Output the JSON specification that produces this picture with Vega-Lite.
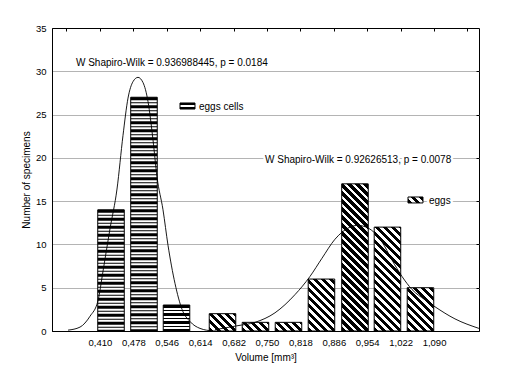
{
"$schema": "https://vega.github.io/schema/vega-lite/v6.json",
"width": 427, "height": 303,
"autosize": {"type": "none"},
"padding": {"left": 52, "top": 28, "right": 36, "bottom": 43},
"config": {"view": {"stroke": "#000", "strokeWidth": 1}, "font": "Liberation Sans", "background": "#fff"},
"datasets": {
"cells": [
{"x0": 0.4056, "x1": 0.4596, "xc": 0.4326, "count": 14},
{"x0": 0.4727, "x1": 0.5267, "xc": 0.4997, "count": 27},
{"x0": 0.5389, "x1": 0.5929, "xc": 0.5659, "count": 3}],
"eggs": [
{"x0": 0.6325, "x1": 0.6865, "count": 2},
{"x0": 0.6996, "x1": 0.7536, "count": 1},
{"x0": 0.7668, "x1": 0.8208, "count": 1},
{"x0": 0.8339, "x1": 0.8879, "count": 6},
{"x0": 0.9021, "x1": 0.9561, "count": 17},
{"x0": 0.9682, "x1": 1.0222, "count": 12},
{"x0": 1.0354, "x1": 1.0894, "count": 5}],
"curve": [
{"g": "cells", "x": 0.3451, "y": 0.1}, {"g": "cells", "x": 0.3695, "y": 0.45}, {"g": "cells", "x": 0.3898, "y": 1.7},
{"g": "cells", "x": 0.4061, "y": 3.5}, {"g": "cells", "x": 0.4163, "y": 6.9}, {"g": "cells", "x": 0.4305, "y": 11.8},
{"g": "cells", "x": 0.4448, "y": 16.4}, {"g": "cells", "x": 0.4570, "y": 22.6}, {"g": "cells", "x": 0.4672, "y": 26.9},
{"g": "cells", "x": 0.4773, "y": 28.8}, {"g": "cells", "x": 0.4875, "y": 29.3}, {"g": "cells", "x": 0.4977, "y": 28.7},
{"g": "cells", "x": 0.5079, "y": 26.5}, {"g": "cells", "x": 0.5180, "y": 22.1}, {"g": "cells", "x": 0.5262, "y": 17.8},
{"g": "cells", "x": 0.5384, "y": 14.0}, {"g": "cells", "x": 0.5486, "y": 9.9}, {"g": "cells", "x": 0.5628, "y": 5.5},
{"g": "cells", "x": 0.5771, "y": 2.5}, {"g": "cells", "x": 0.5933, "y": 1.1}, {"g": "cells", "x": 0.6137, "y": 0.3},
{"g": "cells", "x": 0.6401, "y": 0},
{"g": "eggs", "x": 0.6442, "y": 0.15}, {"g": "eggs", "x": 0.6890, "y": 0.6}, {"g": "eggs", "x": 0.7256, "y": 1.0},
{"g": "eggs", "x": 0.7663, "y": 2.1}, {"g": "eggs", "x": 0.8070, "y": 4.2}, {"g": "eggs", "x": 0.8375, "y": 6.3},
{"g": "eggs", "x": 0.8619, "y": 8.4}, {"g": "eggs", "x": 0.8884, "y": 10.6}, {"g": "eggs", "x": 0.9189, "y": 12.0},
{"g": "eggs", "x": 0.9352, "y": 12.2}, {"g": "eggs", "x": 0.9556, "y": 11.9}, {"g": "eggs", "x": 0.9840, "y": 10.3},
{"g": "eggs", "x": 1.0044, "y": 8.2}, {"g": "eggs", "x": 1.0248, "y": 6.3}, {"g": "eggs", "x": 1.0451, "y": 4.8},
{"g": "eggs", "x": 1.0716, "y": 3.6}, {"g": "eggs", "x": 1.0919, "y": 2.8}, {"g": "eggs", "x": 1.1326, "y": 1.4},
{"g": "eggs", "x": 1.1814, "y": 0.3}],
"swatch": [
{"name": "cells", "x0": 0.5730, "x1": 0.6035, "y0": 25.64, "y1": 26.34},
{"name": "eggs", "x0": 1.0370, "x1": 1.0675, "y0": 14.79, "y1": 15.48}],
"labels": [
{"x": 0.3613, "y": 30.96, "text": "W Shapiro-Wilk = 0.936988445, p = 0.0184"},
{"x": 0.7460, "y": 19.75, "text": "W Shapiro-Wilk = 0.92626513, p = 0.0078"},
{"x": 0.6116, "y": 25.9, "text": "eggs cells"},
{"x": 1.0797, "y": 15.0, "text": "eggs"}]
},
"resolve": {"axis": {"x": "independent", "y": "independent"}},
"layer": [
{
"data": {"name": "cells"},
"mark": {"type": "rect", "fill": "#fff", "stroke": null},
"encoding": {
"x": {"field": "x0", "type": "quantitative", "scale": {"domain": [0.3125, 1.1815], "nice": false, "zero": false},
"axis": {"orient": "bottom", "values": [0.41, 0.478, 0.546, 0.614, 0.682, 0.75, 0.818, 0.886, 0.954, 1.022, 1.09],
"labelExpr": "replace(format(datum.value, '.3f'), '.', ',')", "tickSize": 0, "labelPadding": 6, "labelFontSize": 9.5,
"labelColor": "#000", "domainColor": "#000", "grid": false, "title": "Volume [mm³]", "titleFontSize": 10,
"titleFontWeight": "normal", "titleColor": "#000", "titlePadding": 6, "labelFlush": false, "labelOverlap": false}},
"x2": {"field": "x1"},
"y": {"field": "count", "type": "quantitative", "scale": {"domain": [0, 35], "nice": false},
"axis": {"orient": "left", "values": [0, 5, 10, 15, 20, 25, 30, 35], "tickSize": 0, "labelPadding": 6, "labelFontSize": 9.5,
"labelColor": "#000", "domainColor": "#000", "grid": true,
"gridColor": {"condition": {"test": "datum.value == 0 || datum.value == 35", "value": "transparent"}, "value": "#b4b4b4"},
"title": "Number of specimens", "titleFontSize": 10, "titleFontWeight": "normal", "titleColor": "#000", "titlePadding": 4, "labelFlush": false}},
"y2": {"datum": 0}
}
},
{
"data": {"name": "cells"},
"mark": {"type": "rule", "color": "#000", "strokeWidth": 26.5, "strokeDash": [3, 2, 1, 2], "strokeCap": "butt"},
"encoding": {
"x": {"field": "xc", "type": "quantitative",
"axis": {"orient": "top", "values": [0.342, 0.41, 0.478, 0.546, 0.614, 0.682, 0.75, 0.818, 0.886, 0.954, 1.022, 1.09, 1.158],
"labels": false, "tickSize": -3, "tickColor": "#000", "domain": false, "grid": false, "title": null}},
"y": {"field": "count", "type": "quantitative",
"axis": {"orient": "right", "values": [5, 10, 15, 20, 25, 30], "labels": false, "tickSize": -3, "tickColor": "#000",
"domain": false, "grid": false, "title": null}},
"y2": {"datum": 0}
}
},
{
"data": {"name": "cells"},
"mark": {"type": "rect", "fill": null, "stroke": "#000", "strokeWidth": 1},
"encoding": {
"x": {"field": "x0", "type": "quantitative", "axis": null},
"x2": {"field": "x1"},
"y": {"field": "count", "type": "quantitative", "axis": null},
"y2": {"datum": 0}
}
},
{
"data": {"name": "eggs"},
"mark": {"type": "rect", "stroke": "#000", "strokeWidth": 1},
"encoding": {
"x": {"field": "x0", "type": "quantitative", "axis": null},
"x2": {"field": "x1"},
"y": {"field": "count", "type": "quantitative", "axis": null},
"y2": {"datum": 0},
"fill": {"condition": [
{"test": "datum.count == 1", "value": {"gradient": "linear", "x1": 0, "y1": 1, "x2": 1.1988, "y2": 0.609, "stops": [
{"offset": 0, "color": "#000"}, {"offset": 0.125, "color": "#000"}, {"offset": 0.125, "color": "#fff"}, {"offset": 0.2273, "color": "#fff"},
{"offset": 0.2273, "color": "#000"}, {"offset": 0.3523, "color": "#000"}, {"offset": 0.3523, "color": "#fff"}, {"offset": 0.4545, "color": "#fff"},
{"offset": 0.4545, "color": "#000"}, {"offset": 0.5795, "color": "#000"}, {"offset": 0.5795, "color": "#fff"}, {"offset": 0.6818, "color": "#fff"},
{"offset": 0.6818, "color": "#000"}, {"offset": 0.8068, "color": "#000"}, {"offset": 0.8068, "color": "#fff"}, {"offset": 0.9091, "color": "#fff"},
{"offset": 0.9091, "color": "#000"}, {"offset": 1, "color": "#000"}]}},
{"test": "datum.count == 2", "value": {"gradient": "linear", "x1": 0, "y1": 1, "x2": 1.159, "y2": 0.2439, "stops": [
{"offset": 0, "color": "#000"}, {"offset": 0.1003, "color": "#000"}, {"offset": 0.1003, "color": "#fff"}, {"offset": 0.1824, "color": "#fff"},
{"offset": 0.1824, "color": "#000"}, {"offset": 0.2828, "color": "#000"}, {"offset": 0.2828, "color": "#fff"}, {"offset": 0.3649, "color": "#fff"},
{"offset": 0.3649, "color": "#000"}, {"offset": 0.4652, "color": "#000"}, {"offset": 0.4652, "color": "#fff"}, {"offset": 0.5473, "color": "#fff"},
{"offset": 0.5473, "color": "#000"}, {"offset": 0.6476, "color": "#000"}, {"offset": 0.6476, "color": "#fff"}, {"offset": 0.7297, "color": "#fff"},
{"offset": 0.7297, "color": "#000"}, {"offset": 0.8301, "color": "#000"}, {"offset": 0.8301, "color": "#fff"}, {"offset": 0.9122, "color": "#fff"},
{"offset": 0.9122, "color": "#000"}, {"offset": 1, "color": "#000"}]}},
{"test": "datum.count == 5", "value": {"gradient": "linear", "x1": 0, "y1": 1, "x2": 0.7188, "y2": -0.1724, "stops": [
{"offset": 0, "color": "#000"}, {"offset": 0.063, "color": "#000"}, {"offset": 0.063, "color": "#fff"}, {"offset": 0.1146, "color": "#fff"},
{"offset": 0.1146, "color": "#000"}, {"offset": 0.1776, "color": "#000"}, {"offset": 0.1776, "color": "#fff"}, {"offset": 0.2291, "color": "#fff"},
{"offset": 0.2291, "color": "#000"}, {"offset": 0.2921, "color": "#000"}, {"offset": 0.2921, "color": "#fff"}, {"offset": 0.3437, "color": "#fff"},
{"offset": 0.3437, "color": "#000"}, {"offset": 0.4067, "color": "#000"}, {"offset": 0.4067, "color": "#fff"}, {"offset": 0.4583, "color": "#fff"},
{"offset": 0.4583, "color": "#000"}, {"offset": 0.5213, "color": "#000"}, {"offset": 0.5213, "color": "#fff"}, {"offset": 0.5729, "color": "#fff"},
{"offset": 0.5729, "color": "#000"}, {"offset": 0.6359, "color": "#000"}, {"offset": 0.6359, "color": "#fff"}, {"offset": 0.6874, "color": "#fff"},
{"offset": 0.6874, "color": "#000"}, {"offset": 0.7504, "color": "#000"}, {"offset": 0.7504, "color": "#fff"}, {"offset": 0.802, "color": "#fff"},
{"offset": 0.802, "color": "#000"}, {"offset": 0.865, "color": "#000"}, {"offset": 0.865, "color": "#fff"}, {"offset": 0.9166, "color": "#fff"},
{"offset": 0.9166, "color": "#000"}, {"offset": 0.9796, "color": "#000"}, {"offset": 0.9796, "color": "#fff"}, {"offset": 1, "color": "#fff"}]}},
{"test": "datum.count == 6", "value": {"gradient": "linear", "x1": 0, "y1": 1, "x2": 0.6122, "y2": -0.1981, "stops": [
{"offset": 0, "color": "#000"}, {"offset": 0.0561, "color": "#000"}, {"offset": 0.0561, "color": "#fff"}, {"offset": 0.1019, "color": "#fff"},
{"offset": 0.1019, "color": "#000"}, {"offset": 0.158, "color": "#000"}, {"offset": 0.158, "color": "#fff"}, {"offset": 0.2039, "color": "#fff"},
{"offset": 0.2039, "color": "#000"}, {"offset": 0.2599, "color": "#000"}, {"offset": 0.2599, "color": "#fff"}, {"offset": 0.3058, "color": "#fff"},
{"offset": 0.3058, "color": "#000"}, {"offset": 0.3619, "color": "#000"}, {"offset": 0.3619, "color": "#fff"}, {"offset": 0.4077, "color": "#fff"},
{"offset": 0.4077, "color": "#000"}, {"offset": 0.4638, "color": "#000"}, {"offset": 0.4638, "color": "#fff"}, {"offset": 0.5097, "color": "#fff"},
{"offset": 0.5097, "color": "#000"}, {"offset": 0.5657, "color": "#000"}, {"offset": 0.5657, "color": "#fff"}, {"offset": 0.6116, "color": "#fff"},
{"offset": 0.6116, "color": "#000"}, {"offset": 0.6677, "color": "#000"}, {"offset": 0.6677, "color": "#fff"}, {"offset": 0.7135, "color": "#fff"},
{"offset": 0.7135, "color": "#000"}, {"offset": 0.7696, "color": "#000"}, {"offset": 0.7696, "color": "#fff"}, {"offset": 0.8155, "color": "#fff"},
{"offset": 0.8155, "color": "#000"}, {"offset": 0.8716, "color": "#000"}, {"offset": 0.8716, "color": "#fff"}, {"offset": 0.9174, "color": "#fff"},
{"offset": 0.9174, "color": "#000"}, {"offset": 0.9735, "color": "#000"}, {"offset": 0.9735, "color": "#fff"}, {"offset": 1, "color": "#fff"}]}},
{"test": "datum.count == 12", "value": {"gradient": "linear", "x1": 0, "y1": 1, "x2": 0.3011, "y2": -0.1785, "stops": [
{"offset": 0, "color": "#000"}, {"offset": 0.0337, "color": "#000"}, {"offset": 0.0337, "color": "#fff"}, {"offset": 0.0613, "color": "#fff"},
{"offset": 0.0613, "color": "#000"}, {"offset": 0.0951, "color": "#000"}, {"offset": 0.0951, "color": "#fff"}, {"offset": 0.1227, "color": "#fff"},
{"offset": 0.1227, "color": "#000"}, {"offset": 0.1564, "color": "#000"}, {"offset": 0.1564, "color": "#fff"}, {"offset": 0.184, "color": "#fff"},
{"offset": 0.184, "color": "#000"}, {"offset": 0.2177, "color": "#000"}, {"offset": 0.2177, "color": "#fff"}, {"offset": 0.2454, "color": "#fff"},
{"offset": 0.2454, "color": "#000"}, {"offset": 0.2791, "color": "#000"}, {"offset": 0.2791, "color": "#fff"}, {"offset": 0.3067, "color": "#fff"},
{"offset": 0.3067, "color": "#000"}, {"offset": 0.3404, "color": "#000"}, {"offset": 0.3404, "color": "#fff"}, {"offset": 0.368, "color": "#fff"},
{"offset": 0.368, "color": "#000"}, {"offset": 0.4018, "color": "#000"}, {"offset": 0.4018, "color": "#fff"}, {"offset": 0.4294, "color": "#fff"},
{"offset": 0.4294, "color": "#000"}, {"offset": 0.4631, "color": "#000"}, {"offset": 0.4631, "color": "#fff"}, {"offset": 0.4907, "color": "#fff"},
{"offset": 0.4907, "color": "#000"}, {"offset": 0.5244, "color": "#000"}, {"offset": 0.5244, "color": "#fff"}, {"offset": 0.5521, "color": "#fff"},
{"offset": 0.5521, "color": "#000"}, {"offset": 0.5858, "color": "#000"}, {"offset": 0.5858, "color": "#fff"}, {"offset": 0.6134, "color": "#fff"},
{"offset": 0.6134, "color": "#000"}, {"offset": 0.6471, "color": "#000"}, {"offset": 0.6471, "color": "#fff"}, {"offset": 0.6747, "color": "#fff"},
{"offset": 0.6747, "color": "#000"}, {"offset": 0.7085, "color": "#000"}, {"offset": 0.7085, "color": "#fff"}, {"offset": 0.7361, "color": "#fff"},
{"offset": 0.7361, "color": "#000"}, {"offset": 0.7698, "color": "#000"}, {"offset": 0.7698, "color": "#fff"}, {"offset": 0.7974, "color": "#fff"},
{"offset": 0.7974, "color": "#000"}, {"offset": 0.8311, "color": "#000"}, {"offset": 0.8311, "color": "#fff"}, {"offset": 0.8588, "color": "#fff"},
{"offset": 0.8588, "color": "#000"}, {"offset": 0.8925, "color": "#000"}, {"offset": 0.8925, "color": "#fff"}, {"offset": 0.9201, "color": "#fff"},
{"offset": 0.9201, "color": "#000"}, {"offset": 0.9538, "color": "#000"}, {"offset": 0.9538, "color": "#fff"}, {"offset": 0.9814, "color": "#fff"},
{"offset": 0.9814, "color": "#000"}, {"offset": 1, "color": "#000"}]}},
{"test": "datum.count == 17", "value": {"gradient": "linear", "x1": 0, "y1": 1, "x2": 0.2062, "y2": -0.1432, "stops": [
{"offset": 0, "color": "#000"}, {"offset": 0.0253, "color": "#000"}, {"offset": 0.0253, "color": "#fff"}, {"offset": 0.0461, "color": "#fff"},
{"offset": 0.0461, "color": "#000"}, {"offset": 0.0714, "color": "#000"}, {"offset": 0.0714, "color": "#fff"}, {"offset": 0.0921, "color": "#fff"},
{"offset": 0.0921, "color": "#000"}, {"offset": 0.1174, "color": "#000"}, {"offset": 0.1174, "color": "#fff"}, {"offset": 0.1382, "color": "#fff"},
{"offset": 0.1382, "color": "#000"}, {"offset": 0.1635, "color": "#000"}, {"offset": 0.1635, "color": "#fff"}, {"offset": 0.1842, "color": "#fff"},
{"offset": 0.1842, "color": "#000"}, {"offset": 0.2095, "color": "#000"}, {"offset": 0.2095, "color": "#fff"}, {"offset": 0.2303, "color": "#fff"},
{"offset": 0.2303, "color": "#000"}, {"offset": 0.2556, "color": "#000"}, {"offset": 0.2556, "color": "#fff"}, {"offset": 0.2763, "color": "#fff"},
{"offset": 0.2763, "color": "#000"}, {"offset": 0.3016, "color": "#000"}, {"offset": 0.3016, "color": "#fff"}, {"offset": 0.3224, "color": "#fff"},
{"offset": 0.3224, "color": "#000"}, {"offset": 0.3477, "color": "#000"}, {"offset": 0.3477, "color": "#fff"}, {"offset": 0.3684, "color": "#fff"},
{"offset": 0.3684, "color": "#000"}, {"offset": 0.3937, "color": "#000"}, {"offset": 0.3937, "color": "#fff"}, {"offset": 0.4145, "color": "#fff"},
{"offset": 0.4145, "color": "#000"}, {"offset": 0.4398, "color": "#000"}, {"offset": 0.4398, "color": "#fff"}, {"offset": 0.4605, "color": "#fff"},
{"offset": 0.4605, "color": "#000"}, {"offset": 0.4858, "color": "#000"}, {"offset": 0.4858, "color": "#fff"}, {"offset": 0.5066, "color": "#fff"},
{"offset": 0.5066, "color": "#000"}, {"offset": 0.5319, "color": "#000"}, {"offset": 0.5319, "color": "#fff"}, {"offset": 0.5526, "color": "#fff"},
{"offset": 0.5526, "color": "#000"}, {"offset": 0.578, "color": "#000"}, {"offset": 0.578, "color": "#fff"}, {"offset": 0.5987, "color": "#fff"},
{"offset": 0.5987, "color": "#000"}, {"offset": 0.624, "color": "#000"}, {"offset": 0.624, "color": "#fff"}, {"offset": 0.6448, "color": "#fff"},
{"offset": 0.6448, "color": "#000"}, {"offset": 0.6701, "color": "#000"}, {"offset": 0.6701, "color": "#fff"}, {"offset": 0.6908, "color": "#fff"},
{"offset": 0.6908, "color": "#000"}, {"offset": 0.7161, "color": "#000"}, {"offset": 0.7161, "color": "#fff"}, {"offset": 0.7369, "color": "#fff"},
{"offset": 0.7369, "color": "#000"}, {"offset": 0.7622, "color": "#000"}, {"offset": 0.7622, "color": "#fff"}, {"offset": 0.7829, "color": "#fff"},
{"offset": 0.7829, "color": "#000"}, {"offset": 0.8082, "color": "#000"}, {"offset": 0.8082, "color": "#fff"}, {"offset": 0.829, "color": "#fff"},
{"offset": 0.829, "color": "#000"}, {"offset": 0.8543, "color": "#000"}, {"offset": 0.8543, "color": "#fff"}, {"offset": 0.875, "color": "#fff"},
{"offset": 0.875, "color": "#000"}, {"offset": 0.9003, "color": "#000"}, {"offset": 0.9003, "color": "#fff"}, {"offset": 0.9211, "color": "#fff"},
{"offset": 0.9211, "color": "#000"}, {"offset": 0.9464, "color": "#000"}, {"offset": 0.9464, "color": "#fff"}, {"offset": 0.9671, "color": "#fff"},
{"offset": 0.9671, "color": "#000"}, {"offset": 0.9924, "color": "#000"}, {"offset": 0.9924, "color": "#fff"}, {"offset": 1, "color": "#fff"}]}}
], "value": "#000"}
}
},
{
"data": {"name": "curve"},
"mark": {"type": "line", "color": "#000", "strokeWidth": 0.9, "interpolate": "monotone"},
"encoding": {
"x": {"field": "x", "type": "quantitative", "axis": null},
"y": {"field": "y", "type": "quantitative", "axis": null},
"detail": {"field": "g"}
}
},
{
"data": {"name": "labels"},
"mark": {"type": "text", "align": "left", "baseline": "middle", "fontSize": 10, "stroke": "#fff", "strokeWidth": 5, "fill": "#fff", "strokeJoin": "round"},
"encoding": {
"x": {"field": "x", "type": "quantitative", "axis": null},
"y": {"field": "y", "type": "quantitative", "axis": null},
"text": {"field": "text"}
}
},
{
"data": {"name": "swatch"},
"mark": {"type": "rect", "stroke": "#000", "strokeWidth": 1},
"encoding": {
"x": {"field": "x0", "type": "quantitative", "axis": null},
"x2": {"field": "x1"},
"y": {"field": "y0", "type": "quantitative", "axis": null},
"y2": {"field": "y1"},
"fill": {"condition": {"test": "datum.name == 'cells'", "value": {"gradient": "linear", "x1": 0, "y1": 0, "x2": 0, "y2": 1, "stops": [
{"offset": 0, "color": "#000"}, {"offset": 0.4, "color": "#000"}, {"offset": 0.4, "color": "#fff"}, {"offset": 0.62, "color": "#fff"},
{"offset": 0.62, "color": "#000"}, {"offset": 1, "color": "#000"}]}},
"value": {"gradient": "linear", "x1": 0, "y1": 1, "x2": 1.2069, "y2": 0.5172, "stops": [
{"offset": 0, "color": "#000"}, {"offset": 0.2095, "color": "#000"}, {"offset": 0.2095, "color": "#fff"}, {"offset": 0.381, "color": "#fff"},
{"offset": 0.381, "color": "#000"}, {"offset": 0.5905, "color": "#000"}, {"offset": 0.5905, "color": "#fff"}, {"offset": 0.7619, "color": "#fff"},
{"offset": 0.7619, "color": "#000"}, {"offset": 0.9714, "color": "#000"}, {"offset": 0.9714, "color": "#fff"}, {"offset": 1, "color": "#fff"}]}}
}
},
{
"data": {"name": "labels"},
"mark": {"type": "text", "align": "left", "baseline": "middle", "fontSize": 10, "fill": "#000"},
"encoding": {
"x": {"field": "x", "type": "quantitative", "axis": null},
"y": {"field": "y", "type": "quantitative", "axis": null},
"text": {"field": "text"}
}
}
]
}
